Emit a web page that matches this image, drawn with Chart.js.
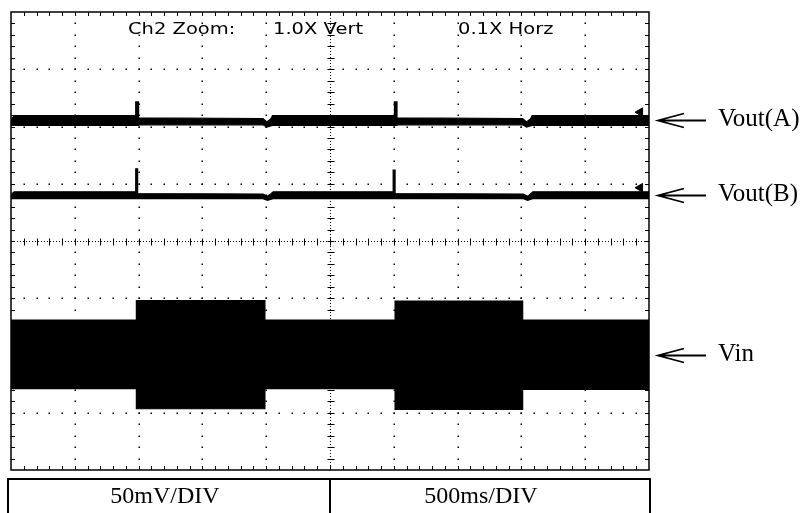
<!DOCTYPE html>
<html><head><meta charset="utf-8">
<script src="https://cdn.jsdelivr.net/npm/chart.js@4/dist/chart.umd.min.js"></script>
<style>html,body{margin:0;padding:0;background:#fff;}canvas{display:block;}</style>
</head><body>
<canvas id="c" width="806" height="513"></canvas>
<script>
// Screen units: x = time divisions (500 ms/div), y = vertical divisions (50 mV/div), 0 = screen centre
const xDivisions = 10;
const yDivisions = 8;

// Vout(A) trace envelope
const timeA       = [0, 0.05, 1.955, 1.955, 2.0, 2.0, 3.95, 4.01, 4.07, 4.1, 6.01, 6.01, 6.05, 6.05, 8.02, 8.08, 8.14, 8.17, 10];
const voutATop    = [2.12, 2.19, 2.19, 2.43, 2.43, 2.15, 2.14, 2.08, 2.13, 2.19, 2.19, 2.43, 2.43, 2.15, 2.14, 2.08, 2.13, 2.19, 2.19];
const voutABottom = [2.02, 2.02, 2.02, 2.02, 2.02, 2.03, 2.03, 1.99, 2.01, 2.02, 2.02, 2.02, 2.02, 2.03, 2.03, 1.99, 2.01, 2.02, 2.02];

// Vout(B) trace envelope
const timeB       = [0, 0.05, 1.955, 1.955, 1.985, 1.985, 3.95, 4.02, 4.08, 4.11, 5.99, 5.99, 6.02, 6.02, 8.03, 8.1, 8.15, 8.18, 10];
const voutBTop    = [0.81, 0.86, 0.86, 1.26, 1.26, 0.83, 0.82, 0.78, 0.83, 0.86, 0.86, 1.24, 1.24, 0.83, 0.82, 0.78, 0.83, 0.86, 0.86];
const voutBBottom = [0.74, 0.74, 0.74, 0.74, 0.74, 0.74, 0.74, 0.71, 0.73, 0.74, 0.74, 0.74, 0.74, 0.74, 0.74, 0.71, 0.73, 0.74, 0.74];

// Vin (filled ripple band)
const timeVin     = [0, 1.965, 1.965, 3.98, 3.98, 6.02, 6.02, 8.02, 8.02, 10];
const vinTop      = [-1.38, -1.38, -1.04, -1.04, -1.38, -1.38, -1.05, -1.05, -1.38, -1.38];
const vinBottom   = [-2.58, -2.58, -2.93, -2.93, -2.58, -2.58, -2.94, -2.94, -2.59, -2.59];

// channel reference markers at right edge
const markerTime  = [9.86, 9.86];
const markerLevel = [2.25, 0.93];

const traceLabels = ['Vout(A)', 'Vout(B)', 'Vin'];
const scopeTexts  = ['Ch2 Zoom:', '1.0X Vert', '0.1X Horz'];
const scaleTexts  = ['50mV/DIV', '500ms/DIV'];

const pts = (t, v) => t.map((x, i) => ({x: x, y: v[i]}));
function band(name, t, top, bottom) {
  return [
    {label: name + ' top', data: pts(t, top), borderColor: '#000', backgroundColor: '#000', borderWidth: 1.2, pointRadius: 0, tension: 0, fill: '+1'},
    {label: name + ' bottom', data: pts(t, bottom), borderColor: '#000', backgroundColor: '#000', borderWidth: 1.2, pointRadius: 0, tension: 0, fill: false}
  ];
}

const gridPlugin = {
  id: 'scopeGrid',
  beforeDatasetsDraw(chart) {
    const {ctx, chartArea: a, scales: {x, y}} = chart;
    ctx.save();
    ctx.fillStyle = '#000';
    ctx.strokeStyle = '#000';
    const yMin = -yDivisions / 2, yMax = yDivisions / 2;
    // dotted major grid
    for (let i = 1; i < xDivisions; i++) {
      if (i === xDivisions / 2) continue;
      const px = Math.round(x.getPixelForValue(i));
      for (let j = 1; j < yDivisions * 5; j++) {
        const py = Math.round(y.getPixelForValue(yMin + j * 0.2));
        ctx.fillRect(px - 0.5, py - 0.5, 1.5, 1.5);
      }
    }
    for (let k = yMin + 1; k < yMax; k++) {
      if (k === 0) continue;
      const py = Math.round(y.getPixelForValue(k));
      for (let j = 1; j < xDivisions * 5; j++) {
        const px = Math.round(x.getPixelForValue(j * 0.2));
        ctx.fillRect(px - 0.5, py - 0.5, 1.5, 1.5);
      }
    }
    // centre lines
    const cx = Math.round(x.getPixelForValue(xDivisions / 2)) + 0.5;
    const cy = Math.round(y.getPixelForValue(0)) + 0.5;
    ctx.lineWidth = 1;
    ctx.setLineDash([1, 2]);
    ctx.beginPath();
    ctx.moveTo(a.left, cy); ctx.lineTo(a.right, cy);
    ctx.moveTo(cx, a.top); ctx.lineTo(cx, a.bottom);
    ctx.stroke();
    ctx.setLineDash([]);
    ctx.beginPath();
    for (let j = 1; j < xDivisions * 5; j++) {
      const px = Math.round(x.getPixelForValue(j * 0.2)) + 0.5;
      ctx.moveTo(px, cy - 3); ctx.lineTo(px, cy + 4);
      ctx.moveTo(px, a.top); ctx.lineTo(px, a.top + 4);
      ctx.moveTo(px, a.bottom); ctx.lineTo(px, a.bottom - 4);
    }
    for (let j = 1; j < yDivisions * 5; j++) {
      const py = Math.round(y.getPixelForValue(yMin + j * 0.2)) + 0.5;
      ctx.moveTo(cx - 3, py); ctx.lineTo(cx + 4, py);
      ctx.moveTo(a.left, py); ctx.lineTo(a.left + 4, py);
      ctx.moveTo(a.right, py); ctx.lineTo(a.right - 4, py);
    }
    ctx.stroke();
    // border
    ctx.lineWidth = 1.5;
    ctx.strokeRect(a.left, a.top, a.right - a.left, a.bottom - a.top);
    ctx.restore();
  }
};

const textPlugin = {
  id: 'scopeText',
  afterDraw(chart) {
    const {ctx, chartArea: a, scales: {x, y}} = chart;
    ctx.save();
    ctx.fillStyle = '#000';
    ctx.strokeStyle = '#000';
    // scope header (horizontally stretched scope font)
    ctx.font = '15px "DejaVu Sans"';
    ctx.textBaseline = 'alphabetic';
    const hx = [128, 273, 458];
    scopeTexts.forEach((s, i) => {
      ctx.save();
      ctx.translate(hx[i], a.top + 22);
      ctx.scale(1.3, 1);
      ctx.fillText(s, 0, 0);
      ctx.restore();
    });
    // arrows + trace labels
    const levels = [
      (voutATop[voutATop.length - 1] + voutABottom[voutABottom.length - 1]) / 2,
      (voutBTop[voutBTop.length - 1] + voutBBottom[voutBBottom.length - 1]) / 2,
      (vinTop[vinTop.length - 1] + vinBottom[vinBottom.length - 1]) / 2
    ];
    ctx.font = '25px "Liberation Serif"';
    ctx.lineWidth = 1.8;
    levels.forEach((lv, i) => {
      const py = Math.round(y.getPixelForValue(lv)) + 0.5;
      const x0 = a.right + 9, x1 = a.right + 57;
      ctx.beginPath();
      ctx.moveTo(x1, py); ctx.lineTo(x0, py);
      ctx.moveTo(x0 + 26, py - 7); ctx.lineTo(x0, py); ctx.lineTo(x0 + 26, py + 7);
      ctx.stroke();
      ctx.fillText(traceLabels[i], a.right + 69, py + 5);
    });
    // bottom scale box
    const bx0 = a.left - 3, bx1 = a.right + 1, by0 = a.bottom + 9;
    const mid = Math.round(x.getPixelForValue(xDivisions / 2));
    ctx.lineWidth = 2;
    ctx.strokeRect(bx0, by0, bx1 - bx0, 60);
    ctx.beginPath(); ctx.moveTo(mid, by0); ctx.lineTo(mid, by0 + 60); ctx.stroke();
    ctx.font = '24px "Liberation Serif"';
    ctx.textAlign = 'center';
    ctx.fillText(scaleTexts[0], (bx0 + mid) / 2 - 4, by0 + 24);
    ctx.fillText(scaleTexts[1], (mid + bx1) / 2 - 9, by0 + 24);
    ctx.restore();
  }
};

new Chart(document.getElementById('c'), {
  type: 'line',
  data: {
    datasets: [
      ...band('Vout(A)', timeA, voutATop, voutABottom),
      ...band('Vout(B)', timeB, voutBTop, voutBBottom),
      ...band('Vin', timeVin, vinTop, vinBottom),
      {label: 'markers', data: pts(markerTime, markerLevel), showLine: false, pointStyle: 'triangle', rotation: -90, pointRadius: 5, backgroundColor: '#000', borderColor: '#000', borderWidth: 1, fill: false}
    ]
  },
  options: {
    responsive: false,
    devicePixelRatio: 1,
    animation: false,
    layout: {padding: {left: 11, top: 12, right: 157, bottom: 43}},
    plugins: {legend: {display: false}, tooltip: {enabled: false}, title: {display: false}},
    scales: {
      x: {type: 'linear', min: 0, max: xDivisions, display: false},
      y: {type: 'linear', min: -yDivisions / 2, max: yDivisions / 2, display: false}
    }
  },
  plugins: [gridPlugin, textPlugin]
});
</script>
</body></html>
